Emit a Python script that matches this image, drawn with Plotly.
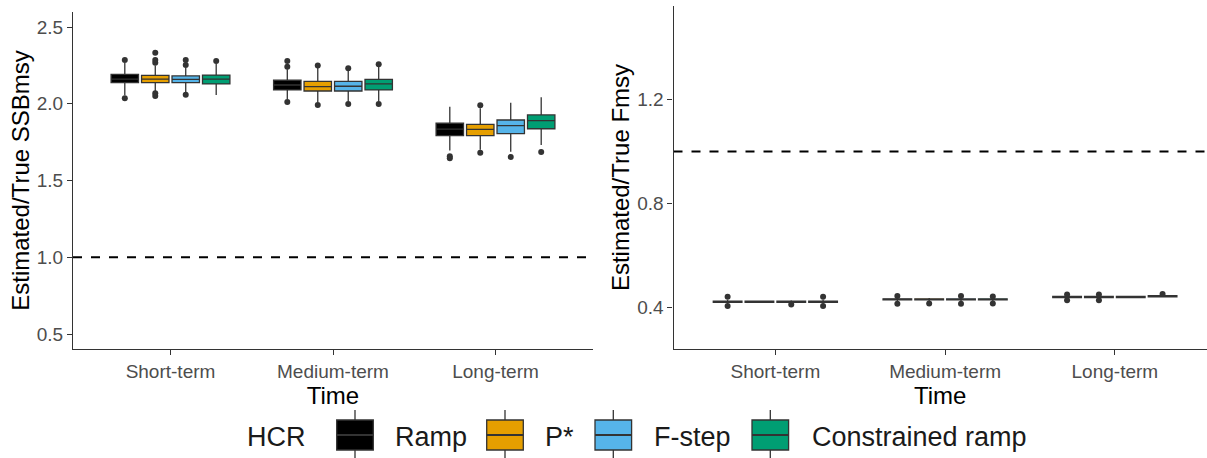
import plotly.graph_objects as go

# ---------------- data ----------------
times = ["Short-term", "Medium-term", "Long-term"]
hcr_names = ["Ramp", "P*", "F-step", "Constrained ramp"]
hcr_colors = ["#000000", "#E69F00", "#56B4E9", "#009E73"]

# Estimated/True SSBmsy  (per HCR: values for Short, Medium, Long)
ssb_q1 = [[2.137, 2.090, 1.792], [2.137, 2.083, 1.792], [2.137, 2.083, 1.805], [2.129, 2.090, 1.837]]
ssb_med = [[2.161, 2.122, 1.835], [2.161, 2.111, 1.833], [2.159, 2.114, 1.857], [2.161, 2.129, 1.890]]
ssb_q3 = [[2.192, 2.153, 1.873], [2.185, 2.146, 1.866], [2.181, 2.146, 1.894], [2.187, 2.159, 1.927]]
ssb_lo = [[2.055, 2.030, 1.695], [2.082, 2.010, 1.700], [2.075, 2.015, 1.688], [2.057, 2.015, 1.731]]
ssb_hi = [[2.265, 2.225, 1.981], [2.250, 2.235, 1.970], [2.235, 2.215, 2.007], [2.260, 2.240, 2.042]]
ssb_out = [
    [[2.036, 2.285], [2.011, 2.241, 2.278], [1.645, 1.658]],
    [[2.050, 2.068, 2.267, 2.285, 2.333], [1.992, 2.250], [1.680, 1.990]],
    [[2.059, 2.252, 2.285], [1.998, 2.231], [1.653]],
    [[2.278], [1.998, 2.257], [1.686]],
]

# Estimated/True Fmsy
f_q1 = [[0.420, 0.429, 0.438], [0.420, 0.429, 0.438], [0.420, 0.429, 0.438], [0.420, 0.429, 0.441]]
f_med = [[0.422, 0.431, 0.440], [0.422, 0.431, 0.440], [0.422, 0.431, 0.440], [0.422, 0.431, 0.443]]
f_q3 = [[0.424, 0.433, 0.442], [0.424, 0.433, 0.442], [0.424, 0.433, 0.442], [0.424, 0.433, 0.445]]
f_lo = [[0.414, 0.422, 0.434], [0.417, 0.424, 0.434], [0.416, 0.422, 0.436], [0.414, 0.422, 0.438]]
f_hi = [[0.430, 0.438, 0.446], [0.427, 0.436, 0.446], [0.428, 0.438, 0.444], [0.430, 0.438, 0.448]]
f_out = [
    [[0.405, 0.441], [0.414, 0.4435], [0.428, 0.450]],
    [[], [0.4155], [0.428, 0.450]],
    [[0.411], [0.414, 0.4435], []],
    [[0.405, 0.441], [0.415, 0.442], [0.452]],
]

ssb_ticks = [0.5, 1.0, 1.5, 2.0, 2.5]
f_ticks = [0.4, 0.8, 1.2]
ref_value = 1.0

# ---------------- figure ----------------
W, H = 1207, 458
def px(x):
    return x / W
def py(y):
    return 1 - y / H

BOX_LINE = "#333333"
fig = go.Figure()

for k, name in enumerate(hcr_names):
    for (q1, med, q3, lo, hi, out, xa, ya, grp) in [
        (ssb_q1, ssb_med, ssb_q3, ssb_lo, ssb_hi, ssb_out, "x", "y", "ssb"),
        (f_q1, f_med, f_q3, f_lo, f_hi, f_out, "x2", "y2", "f"),
    ]:
        # sample values per box: its median plus its outliers (only the outliers are drawn)
        samples = [[m] + list(o) for m, o in zip(med[k], out[k])]
        fig.add_trace(go.Box(
            x=times, q1=q1[k], median=med[k], q3=q3[k],
            lowerfence=lo[k], upperfence=hi[k], y=samples,
            orientation="v",
            name=name, legendgroup=name, showlegend=False,
            offsetgroup=name, alignmentgroup=grp,
            fillcolor=hcr_colors[k],
            line=dict(color=BOX_LINE, width=1.3),
            whiskerwidth=0,
            boxpoints="outliers", jitter=0, pointpos=0,
            marker=dict(color="#333333", size=6, line=dict(width=0)),
            xaxis=xa, yaxis=ya, hoverinfo="skip",
        ))

for xd, yr in [("x domain", "y"), ("x2 domain", "y2")]:
    fig.add_shape(type="line", xref=xd, yref=yr, x0=0, x1=1, y0=ref_value, y1=ref_value,
                  line=dict(color="black", width=2, dash="dash"), layer="below")

tick_font = dict(family="Liberation Sans, Arial, sans-serif", size=19, color="#4D4D4D")
title_font = dict(family="Liberation Sans, Arial, sans-serif", size=24, color="black")

common_x = dict(type="category", categoryorder="array", categoryarray=times,
                showgrid=False, zeroline=False, showline=True, linecolor="#333333", linewidth=1.2,
                ticks="outside", ticklen=5, tickcolor="#333333", tickwidth=1.2,
                tickfont=tick_font, title=dict(text="Time", font=title_font, standoff=2))
common_y = dict(showgrid=False, zeroline=False, showline=True, linecolor="#333333", linewidth=1.2,
                ticks="outside", ticklen=5, tickcolor="#333333", tickwidth=1.2,
                tickfont=tick_font, tickformat=".1f")

fig.update_layout(
    width=W, height=H, margin=dict(l=0, r=0, t=0, b=0),
    paper_bgcolor="white", plot_bgcolor="white",
    boxmode="group", boxgap=0.25, boxgroupgap=0.1,
    showlegend=False,
    xaxis=dict(common_x, domain=[px(73), px(593)], range=[-0.6, 2.6], anchor="y"),
    yaxis=dict(common_y, domain=[py(349.35), py(11.65)], range=[0.4, 2.6], tickvals=ssb_ticks,
               anchor="x", title=dict(text="Estimated/True SSBmsy", font=title_font, standoff=0)),
    xaxis2=dict(common_x, domain=[px(673.5), 1.0], range=[-0.6, 2.543], anchor="y2"),
    yaxis2=dict(common_y, domain=[py(349), py(6)], range=[0.24, 1.56], tickvals=f_ticks,
                anchor="x2", title=dict(text="Estimated/True Fmsy", font=title_font, standoff=0)),
)

# ---------------- custom legend (layout decoration) ----------------
leg_font = dict(family="Liberation Sans, Arial, sans-serif", size=27, color="#1a1a1a")
LEG_TITLE_X = 245
key_lefts = [336.7, 486.7, 595, 752]
text_lefts = [393, 543, 652, 810]
KEY_W, KEY_TOP, KEY_BOT, WH_TOP, WH_BOT, TEXT_Y = 36.6, 420, 450, 410, 458, 437

fig.add_annotation(text="HCR", x=px(LEG_TITLE_X), y=py(TEXT_Y), xref="paper", yref="paper",
                   xanchor="left", yanchor="middle", showarrow=False, font=leg_font)
for k, name in enumerate(hcr_names):
    x0 = key_lefts[k]
    xc = x0 + KEY_W / 2
    fig.add_shape(type="line", xref="paper", yref="paper", x0=px(xc), x1=px(xc), y0=py(WH_TOP), y1=py(WH_BOT),
                  line=dict(color=BOX_LINE, width=1.3), layer="above")
    fig.add_shape(type="rect", xref="paper", yref="paper", x0=px(x0), x1=px(x0 + KEY_W),
                  y0=py(KEY_BOT), y1=py(KEY_TOP), fillcolor=hcr_colors[k],
                  line=dict(color=BOX_LINE, width=1.3), layer="above")
    ym = (KEY_TOP + KEY_BOT) / 2
    fig.add_shape(type="line", xref="paper", yref="paper", x0=px(x0), x1=px(x0 + KEY_W), y0=py(ym), y1=py(ym),
                  line=dict(color=BOX_LINE, width=2.2), layer="above")
    fig.add_annotation(text=name, x=px(text_lefts[k]), y=py(TEXT_Y), xref="paper", yref="paper",
                       xanchor="left", yanchor="middle", showarrow=False, font=leg_font)

fig.write_html("out.html")
